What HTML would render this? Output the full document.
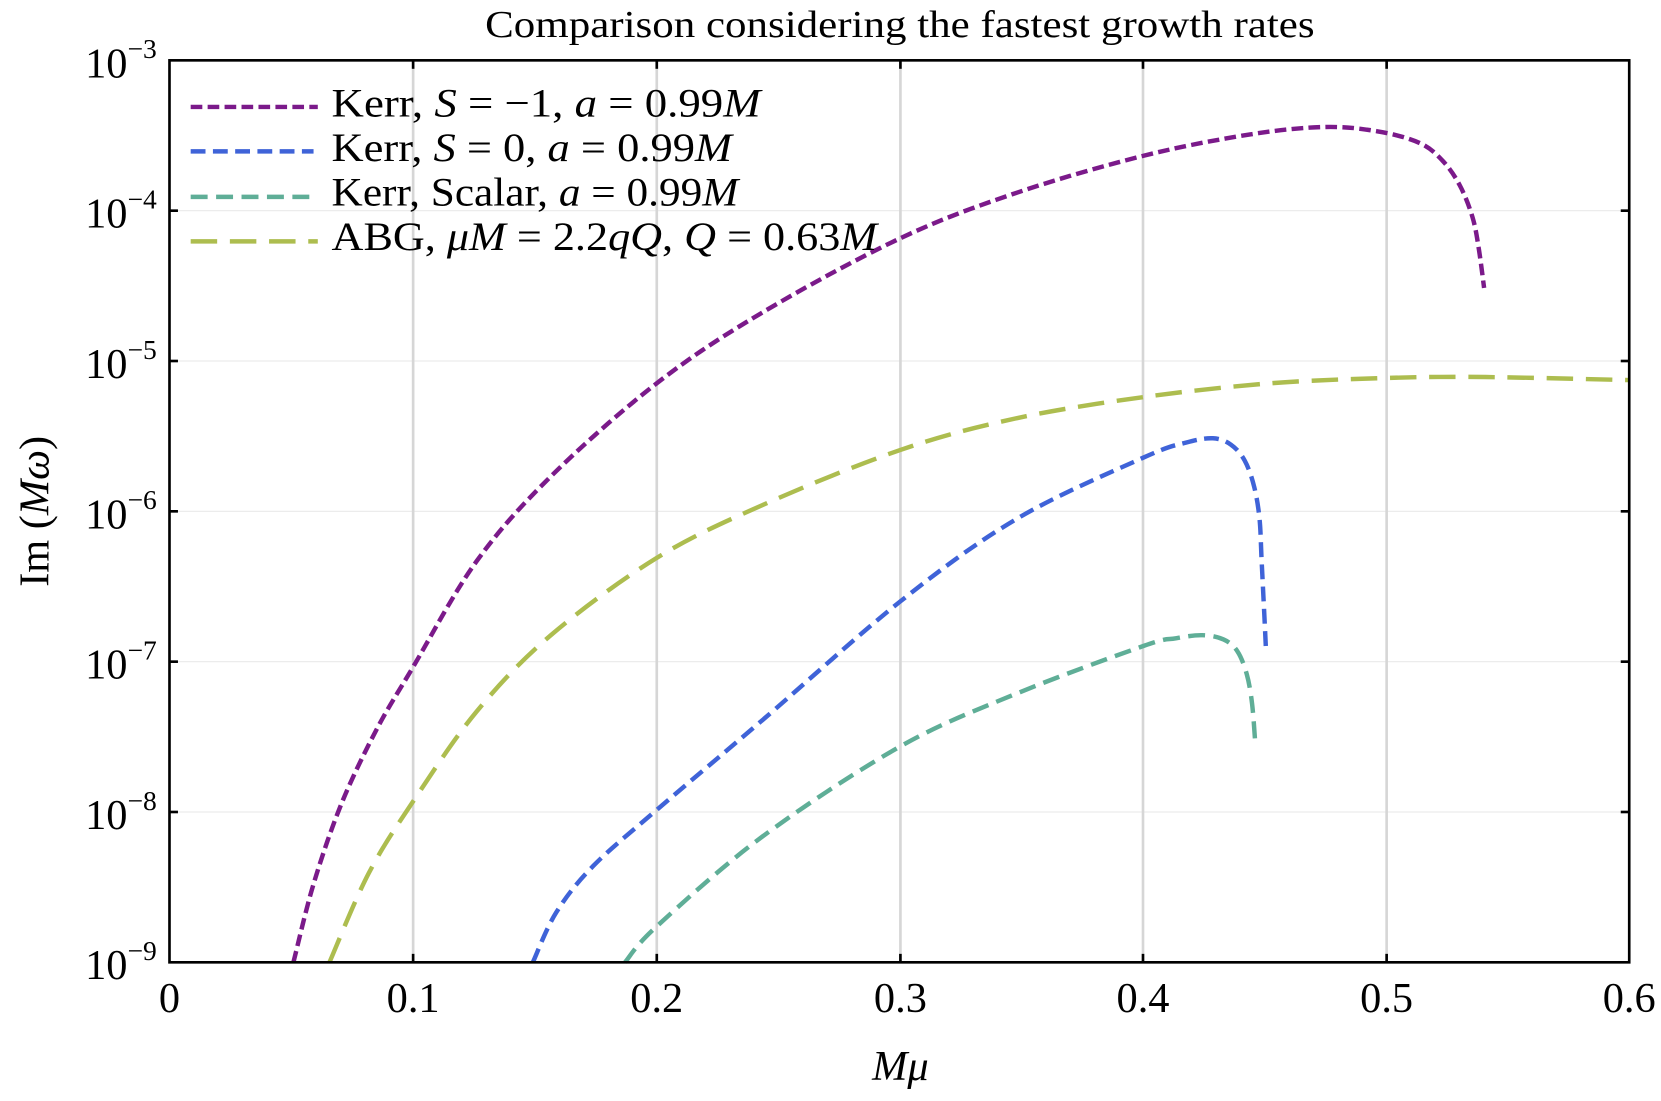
<!DOCTYPE html>
<html><head><meta charset="utf-8"><style>
html,body{margin:0;padding:0;background:#fff;}
svg{display:block;}
text{font-family:"Liberation Serif",serif;fill:#000;}
</style></head><body>
<svg id="s" width="1661" height="1101" viewBox="0 0 1568 1040" preserveAspectRatio="none" xmlns="http://www.w3.org/2000/svg">
<rect width="1568" height="1040" fill="#fff"/>
<g stroke="#ececec" stroke-width="1.2">
<line x1="160" y1="199" x2="1538" y2="199"/><line x1="160" y1="341" x2="1538" y2="341"/>
<line x1="160" y1="483" x2="1538" y2="483"/><line x1="160" y1="625" x2="1538" y2="625"/>
<line x1="160" y1="767" x2="1538" y2="767"/>
</g>
<g stroke="#d6d6d6" stroke-width="2.5">
<line x1="390" y1="57" x2="390" y2="909"/><line x1="620" y1="57" x2="620" y2="909"/>
<line x1="850" y1="57" x2="850" y2="909"/><line x1="1079" y1="57" x2="1079" y2="909"/>
<line x1="1309" y1="57" x2="1309" y2="909"/>
</g>
<g stroke="#000" stroke-width="2.5">
<line x1="160" y1="199" x2="168" y2="199"/><line x1="160" y1="341" x2="168" y2="341"/><line x1="160" y1="483" x2="168" y2="483"/><line x1="160" y1="625" x2="168" y2="625"/><line x1="160" y1="767" x2="168" y2="767"/>
<line x1="1538" y1="199" x2="1530" y2="199"/><line x1="1538" y1="341" x2="1530" y2="341"/><line x1="1538" y1="483" x2="1530" y2="483"/><line x1="1538" y1="625" x2="1530" y2="625"/><line x1="1538" y1="767" x2="1530" y2="767"/>
<line x1="390" y1="909" x2="390" y2="901"/><line x1="620" y1="909" x2="620" y2="901"/><line x1="850" y1="909" x2="850" y2="901"/><line x1="1079" y1="909" x2="1079" y2="901"/><line x1="1309" y1="909" x2="1309" y2="901"/>
<line x1="390" y1="57" x2="390" y2="65"/><line x1="620" y1="57" x2="620" y2="65"/><line x1="850" y1="57" x2="850" y2="65"/><line x1="1079" y1="57" x2="1079" y2="65"/><line x1="1309" y1="57" x2="1309" y2="65"/>
</g>
<g fill="none" stroke-width="4.2">
<path id="p1" stroke="#7b1a8a" stroke-dasharray="11,5" d="M277,909 L296,835 L322,760 L355,690 L390,630 L450,530 L520,450 L620,362 L720,295 L850,225 L960,182 L1080,147 L1180,127 L1250,120 L1300,124 L1340,135 L1362,152 L1378,175 L1390,205 L1396,235 L1401,272"/>
<path id="p2" stroke="#adbd4f" stroke-dasharray="25,12" d="M311,909 L348,825 L390,757 L450,672 L520,600 L620,527 L720,477 L850,425 L960,395 L1080,375 L1200,362 L1310,357 L1380,356 L1450,357 L1538,359"/>
<path id="p3" stroke="#3f63d8" stroke-dasharray="14,7" d="M503,909 L525,862 L560,818 L620,765 L720,680 L850,568 L960,490 L1080,432 L1120,418 L1145,414 L1162,420 L1175,435 L1184,460 L1189,490 L1191,530 L1193,570 L1195,612"/>
<path id="p4" stroke="#5fae97" stroke-dasharray="16,8" d="M590,909 L620,875 L720,790 L850,705 L960,655 L1080,610 L1110,603 L1135,600 L1155,604 L1168,615 L1177,637 L1182,665 L1185,702"/>
</g>
<rect x="160" y="57" width="1378" height="852" fill="none" stroke="#000" stroke-width="2.5"/>
<g stroke-width="4.2">
<line x1="180" y1="101" x2="300" y2="101" stroke="#7b1a8a" stroke-dasharray="11,5"/>
<line x1="180" y1="143" x2="296" y2="143" stroke="#3f63d8" stroke-dasharray="14,7"/>
<line x1="180" y1="186" x2="296" y2="186" stroke="#5fae97" stroke-dasharray="16,8"/>
<line x1="180" y1="228" x2="300" y2="228" stroke="#adbd4f" stroke-dasharray="25,12"/>
</g>
<g font-size="38">
<text x="313" y="110" textLength="405" lengthAdjust="spacingAndGlyphs">Kerr, <tspan font-style="italic">S</tspan> = −1, <tspan font-style="italic">a</tspan> = 0.99<tspan font-style="italic">M</tspan></text>
<text x="313" y="152" textLength="378" lengthAdjust="spacingAndGlyphs">Kerr, <tspan font-style="italic">S</tspan> = 0, <tspan font-style="italic">a</tspan> = 0.99<tspan font-style="italic">M</tspan></text>
<text x="313" y="194" textLength="384" lengthAdjust="spacingAndGlyphs">Kerr, Scalar, <tspan font-style="italic">a</tspan> = 0.99<tspan font-style="italic">M</tspan></text>
<text x="313" y="236" textLength="515" lengthAdjust="spacingAndGlyphs">ABG, <tspan font-style="italic">μM</tspan> = 2.2<tspan font-style="italic">qQ</tspan>, <tspan font-style="italic">Q</tspan> = 0.63<tspan font-style="italic">M</tspan></text>
</g>
<text x="458" y="35" font-size="36" textLength="783" lengthAdjust="spacingAndGlyphs">Comparison considering the fastest growth rates</text>
<g font-size="40" text-anchor="end">
<text x="148" y="73">10<tspan font-size="26" dy="-18">−3</tspan></text>
<text x="148" y="215">10<tspan font-size="26" dy="-18">−4</tspan></text>
<text x="148" y="357">10<tspan font-size="26" dy="-18">−5</tspan></text>
<text x="148" y="499">10<tspan font-size="26" dy="-18">−6</tspan></text>
<text x="148" y="641">10<tspan font-size="26" dy="-18">−7</tspan></text>
<text x="148" y="783">10<tspan font-size="26" dy="-18">−8</tspan></text>
<text x="148" y="925">10<tspan font-size="26" dy="-18">−9</tspan></text>
</g>
<g font-size="40" text-anchor="middle">
<text x="160" y="956">0</text><text x="390" y="956">0.1</text><text x="620" y="956">0.2</text><text x="850" y="956">0.3</text><text x="1079" y="956">0.4</text><text x="1309" y="956">0.5</text><text x="1538" y="956">0.6</text>
</g>
<text x="850" y="1020" font-size="40" font-style="italic" text-anchor="middle">Mμ</text>
<text transform="translate(46,483) rotate(-90)" font-size="40" text-anchor="middle">Im (<tspan font-style="italic">Mω</tspan>)</text>
</svg>
<script>
['p1','p2','p3','p4'].forEach(function(id){
 var el=document.getElementById(id);
 var pts=el.getAttribute('d').replace(/[ML]/g,' ').trim().split(/\s+/).map(function(s){return s.split(',').map(Number);});
 var d='M'+pts[0][0]+','+pts[0][1];
 for(var i=0;i<pts.length-1;i++){
  var p0=pts[Math.max(0,i-1)],p1=pts[i],p2=pts[i+1],p3=pts[Math.min(pts.length-1,i+2)];
  var c1=[p1[0]+(p2[0]-p0[0])/6,p1[1]+(p2[1]-p0[1])/6];
  var c2=[p2[0]-(p3[0]-p1[0])/6,p2[1]-(p3[1]-p1[1])/6];
  d+=' C'+c1[0].toFixed(1)+','+c1[1].toFixed(1)+' '+c2[0].toFixed(1)+','+c2[1].toFixed(1)+' '+p2[0]+','+p2[1];
 }
 el.setAttribute('d',d);
});
</script>
</body></html>
